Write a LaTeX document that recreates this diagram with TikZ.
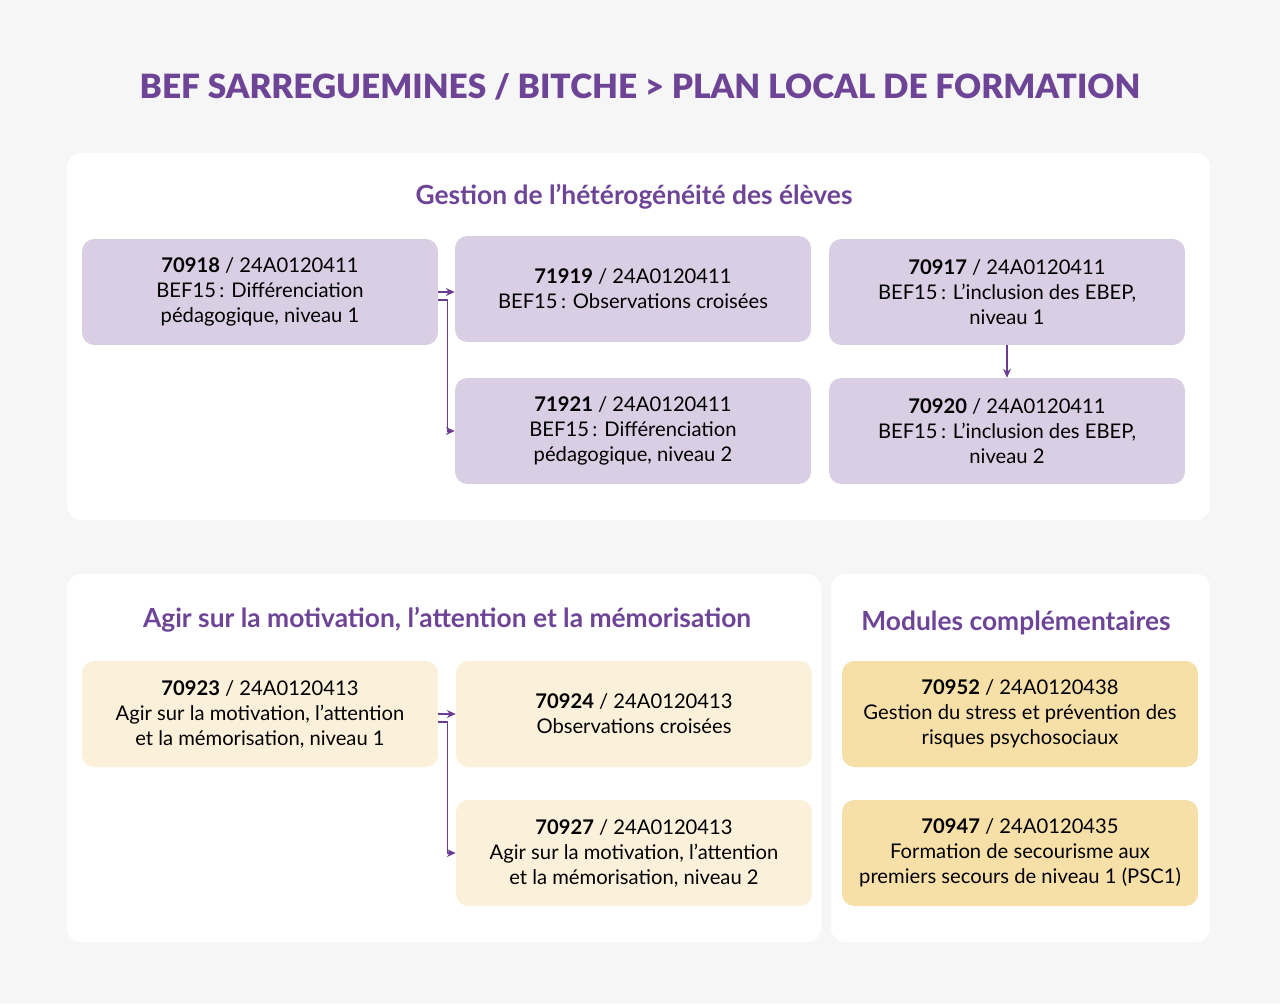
\documentclass[tikz,border=0pt]{standalone}
\usepackage{fontspec}
\setmainfont{Lato}
\newfontfamily\latonoir{Lato Black}
\usetikzlibrary{arrows.meta}

\definecolor{fondgris}{HTML}{F6F6F6}
\definecolor{planviolet}{HTML}{6E4497}
\definecolor{flecheviolet}{HTML}{6A3D91}
\definecolor{mauveclair}{HTML}{D9CEE3}
\definecolor{creme}{HTML}{FBF0DA}
\definecolor{jaunepaille}{HTML}{F7E0A8}

\tikzset{
    titre/.style={text=planviolet,font=\fontsize{19}{23}\selectfont\latonoir},
    rubrique/.style={text=planviolet,font=\fontsize{15}{18}\selectfont\bfseries},
    panneau/.style={fill=white,rounded corners=8pt},
    module/.style={rounded corners=7pt,minimum width=7.12cm,minimum height=2.12cm,
        inner sep=0pt,align=center,font=\fontsize{11.5}{14.2}\selectfont},
    fleche/.style={draw=flecheviolet,line width=0.7pt,-{Stealth[length=5pt,width=4.5pt]}}
}

\begin{document}
\begin{tikzpicture}[x=0.02cm,y=-0.02cm]

    \fill[fondgris] (0,0) rectangle (1280,1004);
    \node[titre] (titre) at (640,87) {BEF SARREGUEMINES / BITCHE > PLAN LOCAL DE FORMATION};

    % panneaux
    \fill[panneau] (67,153) rectangle (1210,520);
    \fill[panneau] (67,574) rectangle (821,942);
    \fill[panneau] (831,574) rectangle (1210,942);

    \node[rubrique] (heterogeneite) at (634,197) {Gestion de l’hétérogénéité des élèves};
    \node[rubrique] (motivation) at (447,620) {Agir sur la motivation, l’attention et la mémorisation};
    \node[rubrique] (complements) at (1016,623) {Modules complémentaires};

    \begin{scope}[every node/.style={module,fill=mauveclair}]
        \node (70918) at (260,292) {\textbf{70918} / 24A0120411\\BEF15\,: Différenciation\\pédagogique, niveau 1};
        \node (71919) at (633,289) {\textbf{71919} / 24A0120411\\BEF15\,: Observations croisées};
        \node (70917) at (1007,292) {\textbf{70917} / 24A0120411\\BEF15\,: L’inclusion des EBEP,\\niveau 1};
        \node (71921) at (633,431) {\textbf{71921} / 24A0120411\\BEF15\,: Différenciation\\pédagogique, niveau 2};
        \node (70920) at (1007,431) {\textbf{70920} / 24A0120411\\BEF15\,: L’inclusion des EBEP,\\niveau 2};
    \end{scope}

    \begin{scope}[every node/.style={module,fill=creme}]
        \node (70923) at (260,714) {\textbf{70923} / 24A0120413\\Agir sur la motivation, l’attention\\et la mémorisation, niveau 1};
        \node (70924) at (634,714) {\textbf{70924} / 24A0120413\\Observations croisées};
        \node (70927) at (634,853) {\textbf{70927} / 24A0120413\\Agir sur la motivation, l’attention\\et la mémorisation, niveau 2};
    \end{scope}

    \begin{scope}[every node/.style={module,fill=jaunepaille}]
        \node (70952) at (1020,714) {\textbf{70952} / 24A0120438\\Gestion du stress et prévention des\\risques psychosociaux};
        \node (70947) at (1020,853) {\textbf{70947} / 24A0120435\\Formation de secourisme aux\\premiers secours de niveau 1 (PSC1)};
    \end{scope}

    % liens
    \draw[fleche] (70918.east) -- (70918.east -| 71919.west);
    \draw[fleche] ([yshift=-0.16cm]70918.east) -- ++(9,0) |- (71921.west);
    \draw[fleche] (70917) -- (70920);
    \draw[fleche] (70923.east) -- (70923.east -| 70924.west);
    \draw[fleche] ([yshift=-0.16cm]70923.east) -- ++(9,0) |- (70927.west);

\end{tikzpicture}
\end{document}
